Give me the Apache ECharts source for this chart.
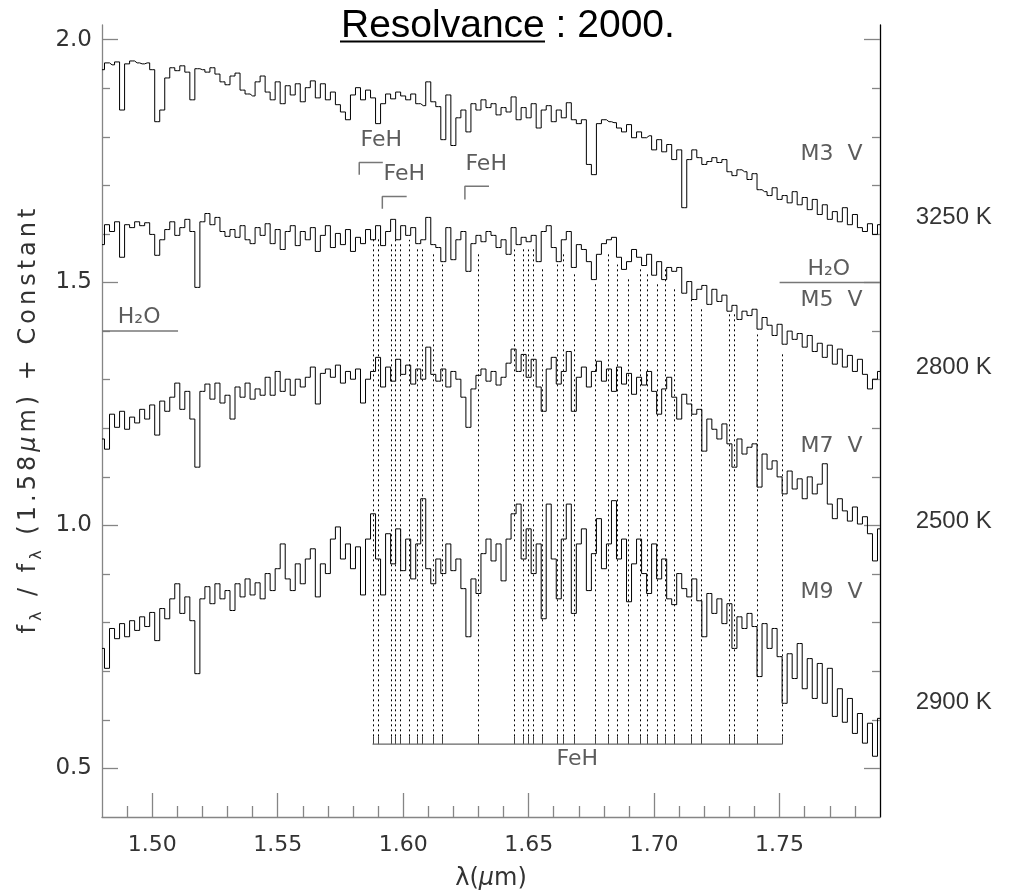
<!DOCTYPE html>
<html><head><meta charset="utf-8">
<script src="https://cdn.jsdelivr.net/npm/echarts@6/dist/echarts.min.js"></script>
<style>html,body{margin:0;padding:0;background:#fff}#c{width:1019px;height:896px}</style>
</head><body><div id="c"></div>
<script>
// ---- data ----
const wavelength = [1.480,1.482,1.484,1.486,1.488,1.490,1.492,1.494,1.496,1.498,1.500,1.502,1.504,1.506,1.508,1.510,1.512,1.514,1.516,1.518,1.520,1.522,1.524,1.526,1.528,1.530,1.532,1.534,1.536,1.538,1.540,1.542,1.544,1.546,1.548,1.550,1.552,1.554,1.556,1.558,1.560,1.562,1.564,1.566,1.568,1.570,1.572,1.574,1.576,1.578,1.580,1.582,1.584,1.586,1.588,1.590,1.592,1.594,1.596,1.598,1.600,1.602,1.604,1.606,1.608,1.610,1.612,1.614,1.616,1.618,1.620,1.622,1.624,1.626,1.628,1.630,1.632,1.634,1.636,1.638,1.640,1.642,1.644,1.646,1.648,1.650,1.652,1.654,1.656,1.658,1.660,1.662,1.664,1.666,1.668,1.670,1.672,1.674,1.676,1.678,1.680,1.682,1.684,1.686,1.688,1.690,1.692,1.694,1.696,1.698,1.700,1.702,1.704,1.706,1.708,1.710,1.712,1.714,1.716,1.718,1.720,1.722,1.724,1.726,1.728,1.730,1.732,1.734,1.736,1.738,1.740,1.742,1.744,1.746,1.748,1.750,1.752,1.754,1.756,1.758,1.760,1.762,1.764,1.766,1.768,1.770,1.772,1.774,1.776,1.778,1.780,1.782,1.784,1.786,1.788,1.790];

const fluxM3 = [1.938,1.952,1.948,1.954,1.855,1.950,1.956,1.952,1.950,1.952,1.938,1.831,1.855,1.921,1.942,1.936,1.946,1.933,1.876,1.940,1.938,1.933,1.942,1.929,1.913,1.907,1.925,1.931,1.896,1.888,1.884,1.913,1.925,1.892,1.876,1.913,1.868,1.905,1.886,1.909,1.872,1.901,1.915,1.880,1.909,1.876,1.892,1.866,1.851,1.835,1.886,1.901,1.876,1.896,1.880,1.827,1.868,1.888,1.878,1.892,1.884,1.876,1.888,1.868,1.864,1.913,1.872,1.862,1.794,1.886,1.782,1.839,1.855,1.810,1.868,1.855,1.876,1.860,1.868,1.845,1.860,1.851,1.882,1.835,1.860,1.839,1.868,1.818,1.855,1.864,1.831,1.855,1.839,1.870,1.835,1.827,1.835,1.743,1.722,1.827,1.835,1.831,1.829,1.818,1.810,1.825,1.798,1.810,1.798,1.802,1.773,1.794,1.769,1.784,1.753,1.773,1.654,1.753,1.773,1.757,1.743,1.749,1.757,1.747,1.753,1.728,1.720,1.732,1.728,1.712,1.724,1.691,1.687,1.679,1.695,1.671,1.679,1.664,1.687,1.660,1.675,1.650,1.671,1.640,1.660,1.630,1.646,1.625,1.654,1.619,1.640,1.613,1.605,1.621,1.599,1.619];

const fluxM5 = [1.578,1.619,1.605,1.625,1.552,1.619,1.613,1.625,1.617,1.623,1.599,1.556,1.588,1.609,1.625,1.597,1.613,1.630,1.605,1.490,1.625,1.642,1.619,1.634,1.605,1.595,1.609,1.593,1.617,1.588,1.580,1.613,1.597,1.621,1.580,1.609,1.568,1.605,1.617,1.576,1.605,1.588,1.613,1.564,1.597,1.617,1.572,1.601,1.578,1.609,1.564,1.593,1.580,1.609,1.588,1.617,1.576,1.605,1.630,1.588,1.617,1.597,1.613,1.580,1.588,1.634,1.578,1.572,1.543,1.613,1.547,1.588,1.605,1.523,1.580,1.597,1.584,1.605,1.597,1.572,1.588,1.558,1.613,1.578,1.593,1.584,1.597,1.543,1.605,1.617,1.572,1.543,1.588,1.605,1.531,1.578,1.568,1.543,1.506,1.558,1.580,1.588,1.593,1.552,1.527,1.543,1.568,1.552,1.535,1.558,1.515,1.543,1.506,1.531,1.523,1.531,1.478,1.502,1.465,1.486,1.494,1.455,1.486,1.461,1.474,1.441,1.453,1.424,1.441,1.432,1.445,1.404,1.428,1.412,1.391,1.414,1.373,1.400,1.383,1.395,1.367,1.391,1.358,1.375,1.346,1.371,1.332,1.363,1.326,1.350,1.317,1.342,1.311,1.281,1.301,1.317];

const fluxM7 = [1.178,1.157,1.229,1.202,1.235,1.198,1.223,1.211,1.239,1.219,1.248,1.186,1.256,1.235,1.264,1.293,1.239,1.276,1.219,1.120,1.276,1.291,1.260,1.293,1.252,1.268,1.219,1.285,1.264,1.293,1.260,1.281,1.268,1.305,1.268,1.317,1.276,1.301,1.268,1.301,1.285,1.305,1.326,1.250,1.313,1.322,1.305,1.330,1.293,1.317,1.301,1.322,1.252,1.301,1.317,1.346,1.285,1.326,1.297,1.342,1.311,1.330,1.291,1.322,1.301,1.367,1.311,1.297,1.322,1.285,1.317,1.301,1.264,1.202,1.281,1.309,1.322,1.297,1.317,1.289,1.305,1.334,1.363,1.317,1.352,1.305,1.342,1.285,1.235,1.322,1.346,1.291,1.317,1.358,1.235,1.305,1.326,1.285,1.317,1.338,1.297,1.322,1.276,1.326,1.291,1.313,1.270,1.305,1.289,1.317,1.276,1.229,1.281,1.305,1.264,1.219,1.270,1.250,1.229,1.239,1.153,1.219,1.198,1.178,1.209,1.168,1.120,1.178,1.147,1.161,1.168,1.079,1.147,1.116,1.133,1.100,1.065,1.112,1.075,1.096,1.055,1.100,1.065,1.085,1.127,1.044,1.014,1.055,1.030,1.009,1.038,1.003,1.018,0.983,0.927,0.993];

const fluxM9 = [0.747,0.706,0.788,0.767,0.798,0.771,0.804,0.784,0.812,0.792,0.821,0.763,0.829,0.808,0.849,0.880,0.819,0.853,0.804,0.695,0.849,0.874,0.839,0.880,0.849,0.866,0.825,0.880,0.853,0.890,0.857,0.882,0.849,0.901,0.866,0.911,0.962,0.890,0.866,0.921,0.880,0.931,0.952,0.853,0.921,0.901,0.972,0.997,0.931,0.962,0.911,0.956,0.857,0.972,1.024,0.931,0.857,0.983,0.921,0.993,0.907,0.972,0.890,0.962,1.055,0.911,0.880,0.931,0.901,0.962,0.907,0.931,0.870,0.771,0.890,0.860,0.942,0.972,0.927,0.962,0.886,0.972,1.024,1.044,0.931,0.993,0.901,0.962,0.808,1.044,0.931,0.849,0.972,1.044,0.819,0.962,0.993,0.866,0.942,1.014,0.911,0.962,1.051,0.931,0.972,0.843,0.921,0.972,0.901,0.860,0.962,0.890,0.931,0.849,0.837,0.901,0.870,0.853,0.890,0.845,0.771,0.860,0.819,0.849,0.798,0.839,0.747,0.812,0.788,0.819,0.792,0.689,0.798,0.747,0.788,0.730,0.634,0.736,0.685,0.757,0.664,0.726,0.644,0.716,0.634,0.706,0.607,0.664,0.595,0.644,0.572,0.613,0.552,0.593,0.525,0.603];

// FeH line list (dashed markers) and the flux level where each marker stops
const fehLines = [1.5881,1.5898,1.5951,1.5969,1.5988,1.6024,1.6056,1.6075,1.6118,1.6153,1.6299,1.6441,1.6476,1.6496,1.6516,1.6552,1.6612,1.6637,1.6679,1.6766,1.6818,1.6852,1.6896,1.6943,1.6971,1.7013,1.7043,1.7080,1.7145,1.7186,1.7300,1.7318,1.7410,1.7511];
const fehTops  = [1.593,1.593,1.582,1.588,1.584,1.588,1.572,1.574,1.562,1.537,1.558,1.568,1.572,1.568,1.572,1.533,1.537,1.558,1.523,1.502,1.562,1.537,1.510,1.531,1.523,1.500,1.527,1.492,1.469,1.449,1.441,1.439,1.393,1.356];

const xMajorTicks = [1.50,1.55,1.60,1.65,1.70,1.75];
const xMinorTicks = [1.49,1.51,1.52,1.53,1.54,1.56,1.57,1.58,1.59,1.61,1.62,1.63,1.64,1.66,1.67,1.68,1.69,1.71,1.72,1.73,1.74,1.76,1.77,1.78];
const yMajorTicks = [0.5,1.0,1.5,2.0];
const yMinorTicks = [0.6,0.7,0.8,0.9,1.1,1.2,1.3,1.4,1.6,1.7,1.8,1.9];

const spectralTypes = ['M3  V','M5  V','M7  V','M9  V'];
const spectralTypeAt = [[1.7581,1.763],[1.7581,1.463],[1.7581,1.163],[1.7581,0.862]];
const temperatures = ['3250 K','2800 K','2500 K','2900 K'];
const temperatureAt = [[1.8040,1.634],[1.8040,1.326],[1.8040,1.009],[1.8040,0.636]];

const bandLabels = ['H₂O','H₂O','FeH','FeH','FeH','FeH'];
const bandLabelAt = [[1.4861,1.429],[1.7609,1.527],[1.5828,1.793],[1.5920,1.722],[1.6246,1.743],[1.6609,0.519]];
const h2oLeft = [[1.48,1.40],[1.5103,1.40]];
const h2oRight = [[1.75,1.50],[1.79,1.50]];
const fehBracket1 = [[1.5825,1.722],[1.5825,1.747],[1.5919,1.747]];
const fehBracket2 = [[1.5917,1.652],[1.5917,1.677],[1.6014,1.677]];
const fehBracket3 = [[1.6246,1.671],[1.6246,1.698],[1.6342,1.698]];
const fehBar = [[1.5878,0.55],[1.7512,0.55]];
const FEH_BAR_Y = 0.55, FEH_TICK_TOP = 0.566;

// ---- chart ----
const X_MIN = 1.48, X_MAX = 1.79, Y_MIN = 0.4, Y_MAX = 2.03;
const idlFont = 'DejaVu Sans';
const txt = '#333';
const axisGray = '#858585';

// wide letter spacing like the original vector font: one rich fragment per character
function spaced(str, style){ return str.split('').map(ch => '{' + style + '|' + ch + '}').join(''); }

function pairs(ys){ return wavelength.map((w,i)=>[w, ys[i]]); }
function spectrum(name, ys){
  return {name, type:'line', step:'middle', data:pairs(ys), symbol:'none', showSymbol:false,
    lineStyle:{color:'#000', width:1}, z:3, silent:true};
}
function guide(data, color, width){
  return {type:'line', data, symbol:'none', lineStyle:{color:color||'#777', width:width||1.5}, z:2, silent:true};
}
function textSeries(texts, at, style){
  return {type:'scatter', data:at.map((p,i)=>({value:p, name:texts[i]})), symbolSize:1,
    itemStyle:{color:'rgba(0,0,0,0)'}, clip:false, silent:true, z:5,
    label:Object.assign({show:true, position:'right', distance:0, formatter:'{b}'}, style)};
}

const yName = spaced('f','a') + '{s|λ}' + spaced(' / f','a') + '{s|λ}' + spaced(' (1.58','a') + '{i|μ}' + spaced('m) + Constant','a');

const chart = echarts.init(document.getElementById('c'), null, {renderer:'canvas'});
chart.setOption({
  animation:false,
  backgroundColor:'#fff',
  title:{text:'Resolvance : 2000.', left:336, top:2,
    textStyle:{fontFamily:'Liberation Sans', fontSize:39, fontWeight:'normal', color:'#000'}},
  graphic:[{type:'line', shape:{x1:340, y1:41.5, x2:545, y2:41.5}, style:{stroke:'#000', lineWidth:2}}],
  grid:{left:102, right:139, top:25, bottom:77, containLabel:false},
  xAxis:[
    {type:'value', min:X_MIN, max:X_MAX, position:'bottom',
      axisLine:{show:true, onZero:false, lineStyle:{color:axisGray, width:1.3}},
      axisTick:{show:true, inside:true, length:24, customValues:xMajorTicks, lineStyle:{color:axisGray, width:1.3}},
      axisLabel:{show:true, customValues:xMajorTicks, margin:17, formatter:v=>v.toFixed(2),
        fontFamily:idlFont, fontSize:22, color:txt},
      splitLine:{show:false},
      name:'{a|λ(}{i|μ}{a|m)}', nameLocation:'middle', nameGap:50,
      nameTextStyle:{rich:{a:{fontFamily:idlFont, fontSize:24, color:txt}, i:{fontFamily:idlFont, fontSize:24, fontStyle:'italic', color:txt}}}},
    {type:'value', min:X_MIN, max:X_MAX, position:'bottom',
      axisLine:{show:false, onZero:false},
      axisTick:{show:true, inside:true, length:11, customValues:xMinorTicks, lineStyle:{color:axisGray, width:1.3}},
      axisLabel:{show:false}, splitLine:{show:false}}
  ],
  yAxis:[
    {type:'value', min:Y_MIN, max:Y_MAX, position:'left',
      axisLine:{show:true, onZero:false, lineStyle:{color:axisGray, width:1.3}},
      axisTick:{show:true, inside:true, length:16, customValues:yMajorTicks, lineStyle:{color:axisGray, width:1.3}},
      axisLabel:{show:true, customValues:yMajorTicks, margin:10, formatter:v=>v.toFixed(1),
        fontFamily:idlFont, fontSize:23, color:txt},
      splitLine:{show:false},
      name:yName, nameLocation:'middle', nameRotate:90, nameGap:48,
      nameTextStyle:{rich:{
        a:{fontFamily:idlFont, fontSize:24, color:txt, lineHeight:32, padding:[0,2,0,2]},
        i:{fontFamily:idlFont, fontSize:24, fontStyle:'italic', color:txt, lineHeight:32, padding:[0,2,0,2]},
        s:{fontFamily:idlFont, fontSize:16, color:txt, lineHeight:16, verticalAlign:'bottom', padding:[0,2,0,2]}}}},
    {type:'value', min:Y_MIN, max:Y_MAX, position:'left',
      axisLine:{show:false, onZero:false},
      axisTick:{show:true, inside:true, length:8, customValues:yMinorTicks, lineStyle:{color:axisGray, width:1.3}},
      axisLabel:{show:false}, splitLine:{show:false}},
    {type:'value', min:Y_MIN, max:Y_MAX, position:'right',
      axisLine:{show:true, onZero:false, lineStyle:{color:'#000', width:1.3}},
      axisTick:{show:true, inside:true, length:16, customValues:yMajorTicks, lineStyle:{color:axisGray, width:1.3}},
      axisLabel:{show:false}, splitLine:{show:false}},
    {type:'value', min:Y_MIN, max:Y_MAX, position:'right',
      axisLine:{show:false, onZero:false},
      axisTick:{show:true, inside:true, length:8, customValues:yMinorTicks, lineStyle:{color:axisGray, width:1.3}},
      axisLabel:{show:false}, splitLine:{show:false}}
  ],
  series:[
    spectrum('M3 V', fluxM3),
    spectrum('M5 V', fluxM5),
    spectrum('M7 V', fluxM7),
    spectrum('M9 V', fluxM9),
    guide(h2oLeft), guide(h2oRight),
    guide(fehBracket1), guide(fehBracket2), guide(fehBracket3),
    guide(fehBar, '#666', 1.3),
    {type:'custom', name:'FeH lines', silent:true, z:1, encode:{x:0, y:1},
      data:fehLines.map((w,i)=>[w, fehTops[i]]),
      renderItem:function(params, api){
        const w = api.value(0), top = api.value(1);
        const p0 = api.coord([w, FEH_BAR_Y]);
        const p1 = api.coord([w, FEH_TICK_TOP]);
        const p2 = api.coord([w, top]);
        const px = Math.round(p0[0]) + 0.5;
        return {type:'group', children:[
          {type:'line', shape:{x1:px, y1:p0[1], x2:px, y2:p1[1]}, style:{stroke:'#444', lineWidth:1}},
          {type:'line', shape:{x1:px, y1:p1[1], x2:px, y2:p2[1]}, style:{stroke:'#000', lineWidth:1, lineDash:[2,3]}}
        ]};
      }},
    textSeries(spectralTypes, spectralTypeAt, {fontFamily:idlFont, fontSize:22, color:txt}),
    textSeries(bandLabels, bandLabelAt, {fontFamily:idlFont, fontSize:22, color:txt}),
    textSeries(temperatures, temperatureAt, {fontFamily:'Liberation Sans', fontSize:24, color:'#000'})
  ]
});
</script>
</body></html>
